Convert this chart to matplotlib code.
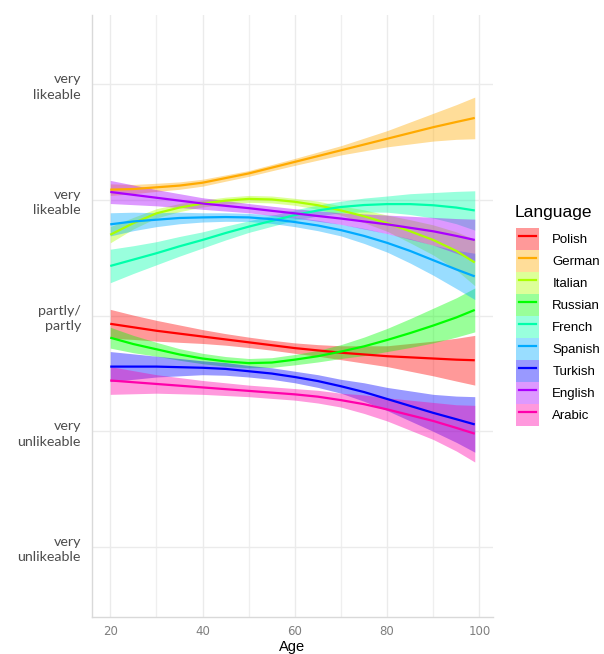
import matplotlib
matplotlib.use("Agg")
import matplotlib.pyplot as plt
import numpy as np
from matplotlib.patches import Patch
from matplotlib.lines import Line2D
from matplotlib.legend_handler import HandlerLine2D

ages = [20, 25, 30, 35, 40, 45, 50, 55, 60, 65, 70, 75, 80, 85, 90, 95, 99]

languages = ["Polish", "German", "Italian", "Russian", "French",
             "Spanish", "Turkish", "English", "Arabic"]
colors = ["#FF0000", "#FFAA00", "#AAFF00", "#00FF00", "#00FFAA",
          "#00AAFF", "#0000FF", "#AA00FF", "#FF00AA"]

polish = [2.93, 2.90, 2.87, 2.845, 2.82, 2.795, 2.77, 2.745, 2.72, 2.70, 2.68,
          2.665, 2.65, 2.64, 2.63, 2.62, 2.615]
german = [4.09, 4.095, 4.11, 4.125, 4.15, 4.19, 4.23, 4.28, 4.33, 4.38, 4.43,
          4.48, 4.53, 4.58, 4.63, 4.675, 4.71]
italian = [3.70, 3.80, 3.885, 3.935, 3.97, 3.995, 4.01, 4.005, 3.985, 3.955, 3.91,
           3.86, 3.80, 3.73, 3.655, 3.56, 3.46]
russian = [2.81, 2.755, 2.71, 2.665, 2.63, 2.605, 2.59, 2.595, 2.62, 2.65, 2.69,
           2.735, 2.79, 2.85, 2.915, 2.985, 3.05]
french = [3.43, 3.485, 3.54, 3.60, 3.655, 3.715, 3.77, 3.82, 3.87, 3.91, 3.94,
          3.957, 3.965, 3.965, 3.955, 3.935, 3.91]
spanish = [3.79, 3.815, 3.83, 3.845, 3.85, 3.853, 3.85, 3.835, 3.81, 3.78, 3.74,
           3.69, 3.63, 3.56, 3.48, 3.40, 3.34]
turkish = [2.56, 2.56, 2.56, 2.555, 2.55, 2.54, 2.52, 2.50, 2.47, 2.435, 2.39,
           2.34, 2.28, 2.22, 2.16, 2.105, 2.06]
english = [4.07, 4.045, 4.02, 3.995, 3.97, 3.95, 3.93, 3.907, 3.885, 3.862, 3.84,
           3.815, 3.79, 3.76, 3.73, 3.69, 3.655]
arabic = [2.44, 2.425, 2.41, 2.395, 2.38, 2.365, 2.35, 2.335, 2.32, 2.30, 2.27,
          2.235, 2.19, 2.14, 2.09, 2.03, 1.98]

polish_ci = [0.125, 0.105, 0.09, 0.075, 0.06, 0.05, 0.045, 0.043, 0.045, 0.05, 0.06,
             0.075, 0.09, 0.12, 0.15, 0.185, 0.215]
german_ci = [0.05, 0.04, 0.035, 0.032, 0.03, 0.027, 0.025, 0.027, 0.03, 0.035, 0.04,
             0.055, 0.07, 0.095, 0.12, 0.15, 0.18]
italian_ci = [0.07, 0.05, 0.04, 0.035, 0.03, 0.03, 0.03, 0.03, 0.03, 0.035, 0.04,
              0.055, 0.07, 0.10, 0.13, 0.165, 0.20]
russian_ci = [0.09, 0.075, 0.06, 0.05, 0.045, 0.042, 0.04, 0.042, 0.045, 0.05, 0.06,
              0.08, 0.10, 0.125, 0.15, 0.17, 0.19]
french_ci = [0.145, 0.12, 0.10, 0.085, 0.07, 0.06, 0.05, 0.047, 0.045, 0.047, 0.05,
             0.06, 0.07, 0.09, 0.11, 0.14, 0.17]
spanish_ci = [0.10, 0.08, 0.06, 0.05, 0.04, 0.037, 0.035, 0.037, 0.04, 0.045, 0.05,
              0.065, 0.08, 0.105, 0.13, 0.165, 0.20]
turkish_ci = [0.13, 0.11, 0.09, 0.075, 0.06, 0.055, 0.05, 0.05, 0.05, 0.055, 0.06,
              0.08, 0.10, 0.13, 0.16, 0.20, 0.24]
english_ci = [0.10, 0.085, 0.07, 0.06, 0.05, 0.045, 0.04, 0.04, 0.04, 0.045, 0.05,
              0.065, 0.08, 0.10, 0.12, 0.15, 0.18]
arabic_ci = [0.12, 0.10, 0.08, 0.07, 0.06, 0.055, 0.05, 0.05, 0.05, 0.055, 0.06,
             0.08, 0.10, 0.13, 0.16, 0.20, 0.245]

series = [polish, german, italian, russian, french, spanish, turkish, english, arabic]
cis = [polish_ci, german_ci, italian_ci, russian_ci, french_ci,
       spanish_ci, turkish_ci, english_ci, arabic_ci]

y_ticks = [1, 2, 3, 4, 5]
y_labels = ["very\nunlikeable", "very\nunlikeable", "partly/\npartly",
            "very\nlikeable", "very\nlikeable"]
x_ticks = [20, 40, 60, 80, 100]

fig = plt.figure(figsize=(6.04, 6.54), dpi=100)
ax = fig.add_axes([92 / 604, 37 / 654, 401 / 604, 602 / 654])

x = np.array(ages)
for name, col, vals, ci in zip(languages, colors, series, cis):
    v = np.array(vals)
    c = np.array(ci)
    ax.fill_between(x, v - c, v + c, color=col, alpha=0.4, linewidth=0, zorder=2)
    ax.plot(x, v, color=col, linewidth=1.6, zorder=3, solid_capstyle="butt",
            solid_joinstyle="round")

ax.set_xlim(16.05, 102.95)
ax.set_ylim(0.395, 5.6)

ax.set_xticks(x_ticks)
ax.set_xticks([30, 50, 70, 90], minor=True)
ax.set_yticks(y_ticks)
ax.set_yticklabels(y_labels, family="Lato", fontsize=10.3, color="#4D4D4D",
                   linespacing=1.32)
ax.tick_params(axis="both", which="both", length=0)
ax.tick_params(axis="y", pad=8)
ax.tick_params(axis="x", pad=6, labelsize=8.5, labelcolor="#7F7F7F")
for lab in ax.get_yticklabels():
    lab.set_horizontalalignment("right")

ax.grid(True, which="major", color="#EBEBEB", linewidth=1.0, zorder=0)
ax.grid(True, which="minor", axis="x", color="#EFEFEF", linewidth=0.9, zorder=0)
ax.set_axisbelow(True)

for s in ["top", "right"]:
    ax.spines[s].set_visible(False)
for s in ["left", "bottom"]:
    ax.spines[s].set_color("#D9D9D9")
    ax.spines[s].set_linewidth(1.0)

ax.set_xlabel("Age", fontsize=10.5, family="Liberation Sans", labelpad=1)

fig.text(515 / 604, 1 - 212 / 654, "Language", family="Liberation Sans",
         fontsize=12.5, va="center", ha="left")

handles = [(Patch(facecolor=c, alpha=0.4, edgecolor="none"),
            Line2D([], [], color=c, linewidth=1.6)) for c in colors]
leg = fig.legend(handles, languages, loc="upper left",
                 bbox_to_anchor=(516 / 604, 1 - 228 / 654),
                 frameon=False,
                 prop={"family": "Liberation Sans", "size": 9.5},
                 handlelength=1.75, handleheight=2.19, labelspacing=0.0,
                 handletextpad=1.0, borderaxespad=0, borderpad=0,
                 handler_map={Line2D: HandlerLine2D(numpoints=2, marker_pad=0.22)})

fig.savefig("out.png", dpi=100)
